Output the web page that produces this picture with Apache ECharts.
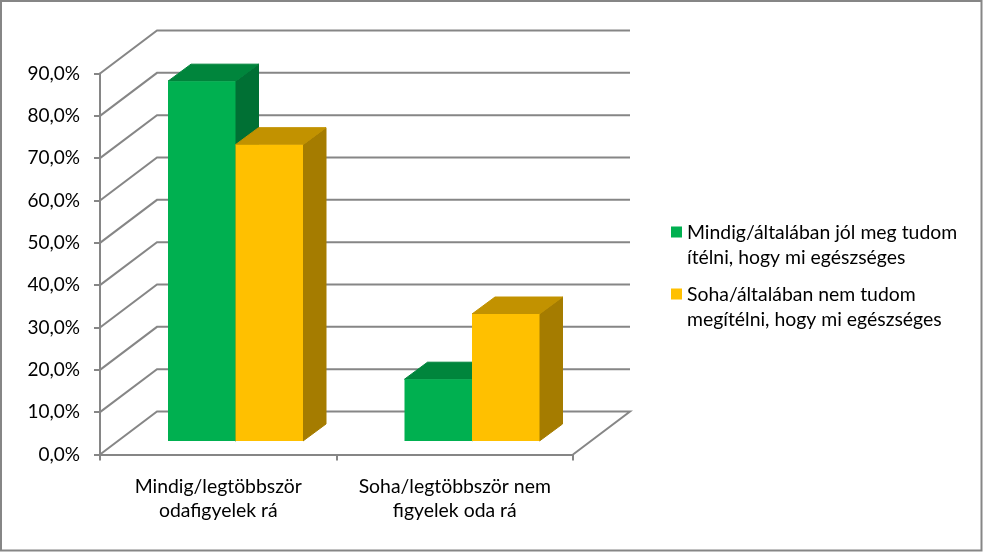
<!DOCTYPE html>
<html>
<head>
<meta charset="utf-8">
<style>
  html, body { margin: 0; padding: 0; background: #fff; }
  #chart { width: 983px; height: 552px; }
</style>
<script src="https://cdn.jsdelivr.net/npm/echarts@6/dist/echarts.min.js"></script>
</head>
<body>
<div id="chart"></div>
<script>
const categories = ['Mindig/legtöbbször\nodafigyelek rá', 'Soha/legtöbbször nem\nfigyelek oda rá'];
const seriesNames = ['Mindig/általában jól meg tudom\nítélni, hogy mi egészséges', 'Soha/általában nem tudom\nmegítélni, hogy mi egészséges'];
const knowValues = [85.0, 14.6];
const dontKnowValues = [70.0, 30.0];
const wallLevels = [0, 10, 20, 30, 40, 50, 60, 70, 80, 90];

const fontFamily = 'Lato';
const gray = '#868686';

// fake 3D offsets, px
const wallDepth = [57, -43];
const barPlane = [17.25, -13.5];
const barDepth = [23, -17];
const barWidth = 67.5;

const wallRender = (params, api) => {
  const p = api.coord([0, api.value(1)]);
  const x0 = params.coordSys.x;
  const x1 = x0 + params.coordSys.width;
  const backY = p[1] + wallDepth[1];
  const points = [[x0, p[1]], [x0 + wallDepth[0], backY], [x1 + wallDepth[0], backY]];
  if (api.value(1) === 0) points.push([x1, p[1]]);
  return {
    type: 'polyline',
    shape: { points },
    style: { fill: 'none', stroke: gray, lineWidth: 2 },
    silent: true
  };
};

const barRender = (side, front, topColor, sideColor) => (params, api) => {
  const top = api.coord([api.value(0), api.value(1)]);
  const base = api.coord([api.value(0), 0]);
  const x0 = top[0] + barPlane[0] + (side === 0 ? -barWidth : 0);
  const x1 = x0 + barWidth;
  const y0 = top[1] + barPlane[1];
  const y1 = base[1] + barPlane[1];
  const dx = barDepth[0];
  const dy = barDepth[1];
  const edge = { lineWidth: 1, lineJoin: 'round' };
  return {
    type: 'group',
    children: [
      {
        type: 'polygon',
        shape: { points: [[x1, y0], [x1 + dx, y0 + dy], [x1 + dx, y1 + dy], [x1, y1]] },
        style: { fill: sideColor, stroke: sideColor, ...edge }
      },
      {
        type: 'polygon',
        shape: { points: [[x0, y0], [x0 + dx, y0 + dy], [x1 + dx, y0 + dy], [x1, y0]] },
        style: { fill: topColor, stroke: topColor, ...edge }
      },
      {
        type: 'rect',
        shape: { x: x0, y: y0, width: barWidth, height: y1 - y0 },
        style: { fill: front }
      }
    ]
  };
};

const chart = echarts.init(document.getElementById('chart'), null, { renderer: 'canvas' });

chart.setOption({
  animation: false,
  backgroundColor: '#fff',
  textStyle: { fontFamily },
  graphic: [{
    type: 'rect',
    silent: true,
    shape: { x: 1, y: 1, width: 980.5, height: 549.5 },
    style: { fill: 'none', stroke: gray, lineWidth: 2 }
  }],
  legend: {
    orient: 'vertical',
    left: 671,
    top: 220,
    padding: 0,
    itemGap: 12,
    itemWidth: 11,
    itemHeight: 50,
    selectedMode: false,
    // extra empty subpaths keep the swatch next to the first text line
    icon: 'path://M0 0h.01M0 6.5h11v11h-11zM0 50h.01',
    data: seriesNames,
    textStyle: { color: '#000', fontFamily, fontSize: 19.4, lineHeight: 25 }
  },
  grid: { left: 100, right: 410, top: 73.5, bottom: 97.5 },
  xAxis: {
    type: 'category',
    data: categories,
    axisLine: { lineStyle: { color: gray, width: 2 } },
    axisTick: { show: true, length: 6, lineStyle: { color: gray, width: 2 } },
    axisLabel: { color: '#000', fontFamily, fontSize: 19.4, lineHeight: 24, margin: 20, interval: 0 }
  },
  yAxis: {
    type: 'value',
    min: 0,
    max: 90,
    interval: 10,
    splitLine: { show: false },
    axisLine: { show: true, lineStyle: { color: gray, width: 2 } },
    axisTick: { show: true, length: 6, lineStyle: { color: gray, width: 2 } },
    axisLabel: {
      color: '#000',
      fontFamily,
      fontSize: 19,
      margin: 20,
      padding: [3, 0, 0, 0],
      formatter: v => v.toFixed(1).replace('.', ',') + '%'
    }
  },
  series: [
    {
      name: 'wall',
      type: 'custom',
      z: 1,
      renderItem: wallRender,
      encode: { x: 0, y: 1 },
      data: wallLevels.map(v => [0, v])
    },
    {
      name: seriesNames[0],
      type: 'custom',
      z: 2,
      itemStyle: { color: '#00B050' },
      renderItem: barRender(0, '#00B050', '#00853C', '#007034'),
      encode: { x: 0, y: 1 },
      data: knowValues.map((v, i) => [i, v])
    },
    {
      name: seriesNames[1],
      type: 'custom',
      z: 3,
      itemStyle: { color: '#FFC000' },
      renderItem: barRender(1, '#FFC000', '#C29200', '#A57C00'),
      encode: { x: 0, y: 1 },
      data: dontKnowValues.map((v, i) => [i, v])
    }
  ]
});

window.addEventListener('resize', () => chart.resize());
</script>
</body>
</html>
